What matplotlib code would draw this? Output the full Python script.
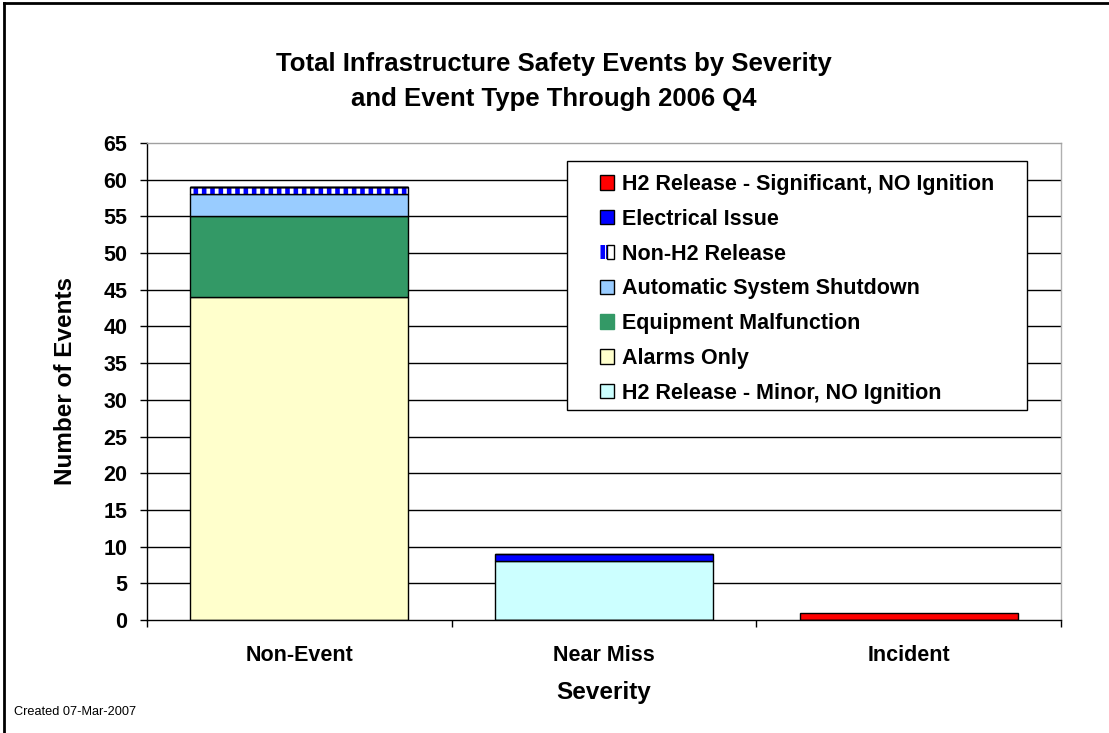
import matplotlib
matplotlib.use("Agg")
import matplotlib.pyplot as plt
from matplotlib.patches import Patch, Rectangle
from matplotlib.lines import Line2D
from matplotlib.legend_handler import HandlerTuple

plt.rcParams['font.family'] = ['Liberation Sans', 'DejaVu Sans']
plt.rcParams['hatch.linewidth'] = 3.3

# data
severity = ["Non-Event", "Near Miss", "Incident"]
alarms_only = [44, 0, 0]
equipment_malfunction = [11, 0, 0]
auto_shutdown = [3, 0, 0]
non_h2_release = [1, 0, 0]
h2_minor = [0, 8, 0]
electrical_issue = [0, 1, 0]
h2_significant = [0, 0, 1]

fig = plt.figure(figsize=(11.09, 7.33), dpi=100)
ax = fig.add_axes([147 / 1109, 113 / 733, 914 / 1109, 477 / 733])

x = list(range(len(severity)))
w = 0.715
kw = dict(width=w, edgecolor="black", linewidth=1, zorder=3)

# stack the series from the bottom up
bottom = [0, 0, 0]
def stack(vals, color, **extra):
    global bottom
    bars = ax.bar(x, vals, bottom=bottom, color=color, **kw, **extra)
    bottom = [b + v for b, v in zip(bottom, vals)]
    return bars

stack(alarms_only, "#FFFFCC")
stack(equipment_malfunction, "#339966")
stack(auto_shutdown, "#99CCFF")
# hatched Non-H2 release: stripes first, then the black outline
ax.bar(x, non_h2_release, bottom=bottom, width=w, color="white", edgecolor="blue",
       hatch="||", linewidth=0, zorder=3)
ax.bar(x, non_h2_release, bottom=bottom, width=w, fill=False, edgecolor="black",
       linewidth=1, zorder=4)
bottom = [b + v for b, v in zip(bottom, non_h2_release)]
stack(h2_minor, "#CCFFFF")
stack(electrical_issue, "#0000FF")
stack(h2_significant, "#FF0000")

ax.set_xlim(-0.5, 2.5)
ax.set_ylim(0, 65)
ax.set_yticks(range(0, 66, 5))
ax.set_xticks(x)
ax.set_xticklabels(severity, fontsize=15.5, fontweight="bold")
ax.set_xticks([-0.5, 0.5, 1.5, 2.5], minor=True)
ax.tick_params(axis="x", which="major", length=0, pad=18)
ax.tick_params(axis="x", which="minor", length=5, width=1, direction="out")
ax.tick_params(axis="y", length=5, width=1, direction="out", pad=9,
               labelsize=15.5)
for lab in ax.get_yticklabels():
    lab.set_fontweight("bold")

for yv in range(5, 65, 5):
    ax.axhline(yv, color="black", linewidth=1, zorder=1)

ax.spines["left"].set_color("black")
ax.spines["bottom"].set_color("black")
ax.spines["top"].set_color("#A0A0A0")
ax.spines["right"].set_color("#B0B0B0")
for s in ax.spines.values():
    s.set_linewidth(1)
    s.set_zorder(5)

ax.set_xlabel("Severity", fontsize=17.5, fontweight="bold", labelpad=11)
ax.set_ylabel("Number of Events", fontsize=17.5, fontweight="bold", labelpad=19)

fig.text(0.4995, 1 - 81.5 / 733,
         "Total Infrastructure Safety Events by Severity\nand Event Type Through 2006 Q4",
         ha="center", va="center", fontsize=18.5, fontweight="bold", linespacing=1.6)

fig.text(14 / 1109, 1 - 712 / 733, "Created 07-Mar-2007", fontsize=9.2,
         va="center", ha="left")

# legend
handles = [
    Patch(facecolor="#FF0000", edgecolor="black"),
    Patch(facecolor="#0000FF", edgecolor="black"),
    (Patch(facecolor="white", edgecolor="blue", hatch="|||", linewidth=0),
     Patch(fill=False, edgecolor="black")),
    Patch(facecolor="#99CCFF", edgecolor="black"),
    Patch(facecolor="#339966", edgecolor="#339966"),
    Patch(facecolor="#FFFFCC", edgecolor="black"),
    Patch(facecolor="#CCFFFF", edgecolor="black"),
]
labels = ["H2 Release - Significant, NO Ignition", "Electrical Issue", "Non-H2 Release",
          "Automatic System Shutdown", "Equipment Malfunction", "Alarms Only",
          "H2 Release - Minor, NO Ignition"]
leg = fig.legend(handles, labels, loc="upper left",
                 bbox_to_anchor=(600 / 1109, 1 - 174 / 733),
                 frameon=False, prop={"weight": "bold", "size": 15.5},
                 handlelength=0.65, handleheight=0.65, handletextpad=0.35,
                 labelspacing=0.64, borderpad=0, borderaxespad=0,
                 handler_map={tuple: HandlerTuple(ndivide=None, pad=0)})
leg.set_zorder(10)
fig.patches.append(Rectangle((567 / 1109, 1 - 410 / 733), 460 / 1109, 249 / 733,
                             transform=fig.transFigure, facecolor="white",
                             edgecolor="black", linewidth=1, zorder=9))

# outer frame (left and top edges visible)
fig.add_artist(Line2D([4 / 1109, 4 / 1109], [0, 1 - 3 / 733], color="black", linewidth=2))
fig.add_artist(Line2D([4 / 1109, 1], [1 - 3 / 733, 1 - 3 / 733], color="black", linewidth=2))

fig.savefig("out.png", dpi=100)
